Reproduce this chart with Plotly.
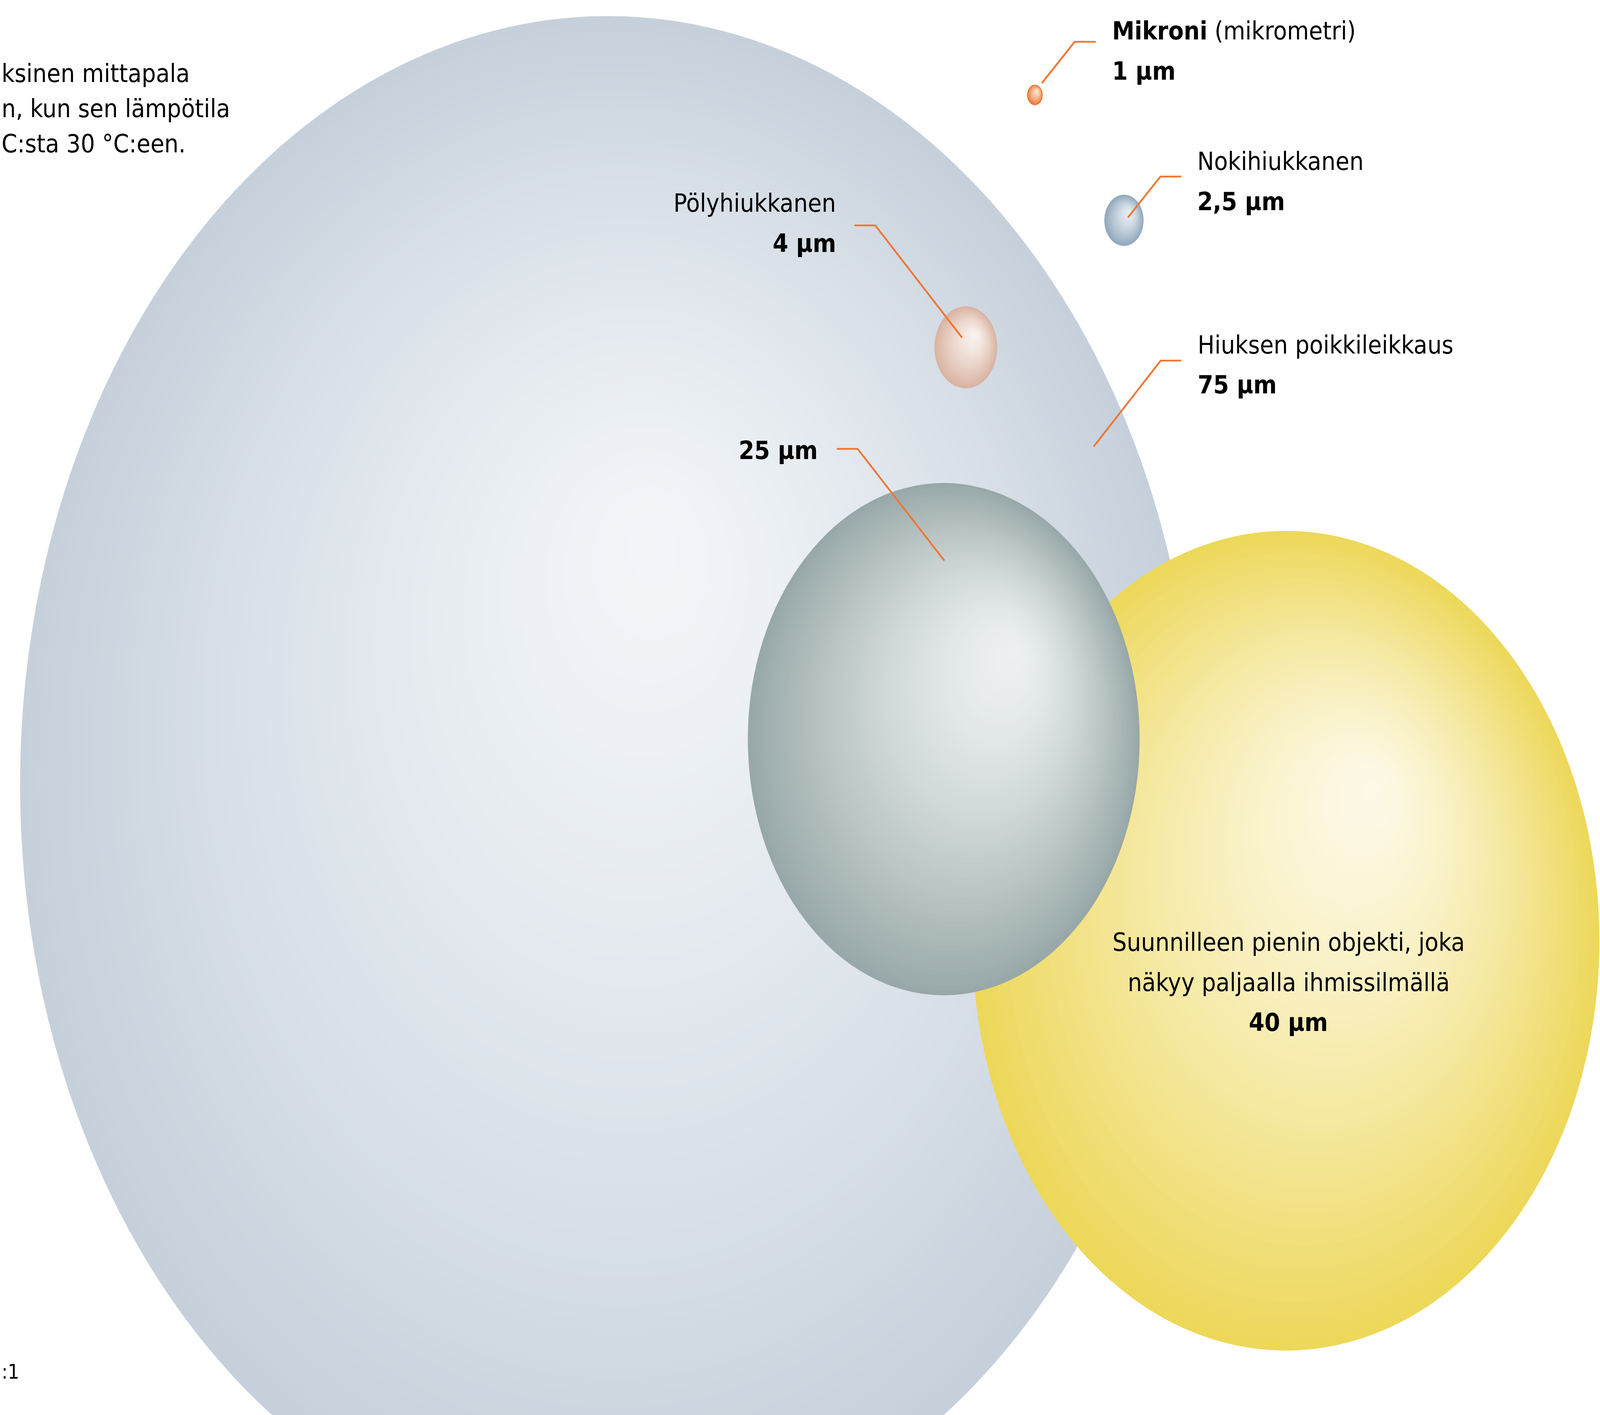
import plotly.graph_objects as go

# ---------------- data ----------------
names = ["Mikroni", "Nokihiukkanen", "Pölyhiukkanen", "", "Suunnilleen pienin objekti, joka näkyy paljaalla ihmissilmällä", "Hiuksen poikkileikkaus"]
diameters_um = [1, 2.5, 4, 25, 40, 75]
value_labels = ["1 µm", "2,5 µm", "4 µm", "25 µm", "40 µm", "75 µm"]
note_lines = ["ksinen mittapala", "n, kun sen lämpötila", "C:sta 30 °C:een."]
scale_text = ":1"

# ---------------- layout / style ----------------
W, H = 5354, 3622          # reference picture in pixels
S = 52.45                  # reference pixels per micrometre
VIEW_W, VIEW_H = 4096, 3622  # browser viewport actually available

def d(px):
    return px / S

centres_px = {1: (3463, 243), 2.5: (3761, 564), 4: (3232, 889),
              25: (3158, 1892), 40: (4303, 2408), 75: (2034, 2008)}
styles = {
    75: ("#c6d0db", "#f2f5f8", 0.08, -0.32, 1.35),
    40: ("#edd85a", "#fdf9e8", 0.28, -0.38, 1.3),
    25: ("#98a8a8", "#edf0f0", 0.36, -0.34, 1.5),
    4: ("#d9b3a1", "#f9f2ee", 0.3, -0.3, 1.4),
    2.5: ("#90a8bc", "#e9eef4", 0.3, -0.3, 1.4),
    1: ("#ec7430", "#fde6d2", 0.3, -0.35, 1.4),
}
draw_order = [75, 40, 25, 4, 2.5, 1]

def hex2rgb(h):
    h = h.lstrip("#")
    return tuple(int(h[i:i + 2], 16) for i in (0, 2, 4))

def mix(a, b, t):
    ra, rb = hex2rgb(a), hex2rgb(b)
    return "rgb(%d,%d,%d)" % tuple(round(ra[i] + (rb[i] - ra[i]) * t) for i in range(3))

shapes = []
for dia in draw_order:
    assert dia in diameters_um
    cxp, cyp = centres_px[dia]
    cx, cy = d(cxp), d(cyp)
    R = dia / 2.0
    edge, hi, fx, fy, p = styles[dia]
    fxp, fyp = cx + fx * R, cy + fy * R
    n = 70 if dia >= 25 else 30
    for i in range(n, 0, -1):
        t = i / n
        r = t * R
        ccx = fxp + t * (cx - fxp)
        ccy = fyp + t * (cy - fyp)
        col = mix(hi, edge, t ** p)
        shapes.append(dict(type="circle", xref="x", yref="y",
                           x0=ccx - r, x1=ccx + r, y0=ccy - r, y1=ccy + r,
                           fillcolor=col, line=dict(width=0)))

LEAD = "#ee7634"
leaders_px = [
    [(3486, 213), (3596, 107), (3667, 107)],
    [(3774, 557), (3883, 452), (3953, 452)],
    [(3219, 864), (2929, 577), (2859, 577)],
    [(3160, 1435), (2870, 1149), (2800, 1149)],
    [(3660, 1143), (3884, 923), (3953, 923)],
]
for pts in leaders_px:
    path = "M %f,%f" % (d(pts[0][0]), d(pts[0][1]))
    for (x, y) in pts[1:]:
        path += " L %f,%f" % (d(x), d(y))
    shapes.append(dict(type="path", xref="x", yref="y", path=path,
                       line=dict(color=LEAD, width=4.5)))

FONT = "Liberation Sans Narrow, Noto Sans ExtraCondensed, DejaVu Sans Condensed, Liberation Sans, sans-serif"
FS = 64
annotations = []

def txt(text, x, baseline, anchor="left", size=FS, bold=False):
    if bold:
        text = "<b>%s</b>" % text
    annotations.append(dict(text=text, x=d(x), y=d(baseline - 0.32 * size),
                            xref="x", yref="y", xanchor=anchor, yanchor="middle",
                            showarrow=False,
                            font=dict(family=FONT, size=size, color="#000000")))

txt("<b>%s</b> (mikrometri)" % names[0], 3719, 99)
txt(value_labels[0], 3719, 202, bold=True)
txt(names[1], 4004, 433)
txt(value_labels[1], 4004, 536, bold=True)
txt(names[2], 2800, 540, anchor="right")
txt(value_labels[2], 2800, 643, anchor="right", bold=True)
txt(value_labels[3], 2740, 1173, anchor="right", bold=True)
txt(names[5], 4005, 903)
txt(value_labels[5], 4005, 1005, bold=True)
txt("Suunnilleen pienin objekti, joka", 4312, 2432, anchor="center")
txt("näkyy paljaalla ihmissilmällä", 4312, 2535, anchor="center")
txt(value_labels[4], 4312, 2637, anchor="center", bold=True)
for line, bl in zip(note_lines, [208, 298, 388]):
    txt(line, 2, bl, anchor="left")
txt(scale_text, 2, 3528, anchor="left", size=52)

fig = go.Figure()
fig.update_layout(
    width=VIEW_W, height=VIEW_H, autosize=False,
    margin=dict(l=0, r=0, t=0, b=0, pad=0),
    paper_bgcolor="white", plot_bgcolor="white",
    xaxis=dict(range=[0, d(W)], visible=False, showgrid=False, zeroline=False, fixedrange=True),
    yaxis=dict(range=[d(H), 0], visible=False, showgrid=False, zeroline=False, fixedrange=True),
    shapes=shapes, annotations=annotations, showlegend=False,
)
post = (
    "document.body.style.margin='0px';"
    "document.body.style.overflow='hidden';"
    "var gd=document.getElementById('{plot_id}');"
    "var w=window.innerWidth, h=window.innerHeight;"
    "if (w>200 && h>200 && (w!==%d || h!==%d)) { Plotly.relayout(gd, {width: w, height: h}); }"
    % (VIEW_W, VIEW_H)
)
fig.write_html("out.html", config={"displayModeBar": False}, post_script=post)
